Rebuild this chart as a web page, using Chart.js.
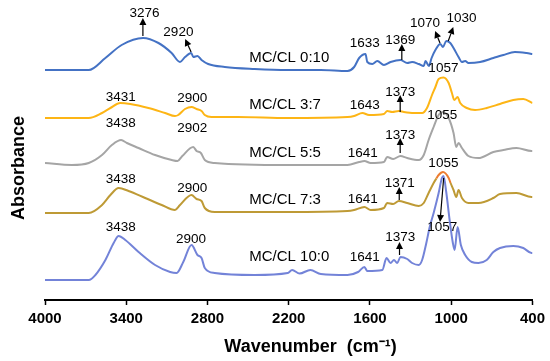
<!DOCTYPE html>
<html>
<head>
<meta charset="utf-8">
<script src="https://cdn.jsdelivr.net/npm/chart.js@4/dist/chart.umd.min.js"></script>
<style>
html,body{margin:0;padding:0;background:#fff;}
#wrap{width:550px;height:361px;position:relative;}
</style>
</head>
<body>
<div id="wrap"><canvas id="c" width="550" height="361"></canvas></div>
<script>
// ---- data (wavenumber in cm-1, absorbance in arbitrary offset units) ----
const xTicks = [4000, 3400, 2800, 2200, 1600, 1000, 400];

const seriesNames = ['MC/CL 0:10', 'MC/CL 3:7', 'MC/CL 5:5', 'MC/CL 7:3', 'MC/CL 10:0'];

const wn_0_10 = [4000,3677,3554,3434,3276,3162,3065,3003,2966,2920,2905,2874,2844,2795,2672,2452,2207,1963,1766,1717,1680,1633,1620,1583,1546,1497,1448,1375,1325,1289,1240,1203,1190,1165,1145,1117,1081,1061,1037,1007,983,946,921,897,873,787,689,615,530,444,400];
const abs_0_10 = [2.32,2.32,2.44,2.57,2.64,2.59,2.49,2.40,2.45,2.49,2.45,2.46,2.42,2.38,2.35,2.33,2.32,2.32,2.31,2.35,2.44,2.48,2.40,2.38,2.41,2.37,2.40,2.42,2.39,2.40,2.38,2.36,2.41,2.36,2.44,2.52,2.58,2.55,2.61,2.59,2.54,2.45,2.40,2.41,2.39,2.40,2.44,2.47,2.50,2.49,2.48];

const wn_3_7 = [4000,3677,3579,3517,3444,3370,3236,3113,3040,3016,2966,2918,2881,2844,2820,2771,2575,2207,1766,1717,1656,1607,1497,1473,1436,1387,1350,1276,1215,1179,1142,1117,1093,1057,1019,995,978,953,934,885,824,738,640,542,468,400];
const abs_3_7 = [1.84,1.84,1.89,1.94,1.99,1.98,1.94,1.89,1.86,1.87,1.93,1.95,1.93,1.91,1.87,1.85,1.85,1.84,1.85,1.86,1.89,1.87,1.88,1.91,1.90,1.91,1.90,1.89,1.89,1.94,2.07,2.15,2.23,2.245,2.19,2.09,2.02,2.05,1.99,1.94,1.92,1.94,1.98,2.02,2.03,1.99];

const wn_5_5 = [4000,3802,3677,3579,3506,3438,3395,3309,3187,3064,3021,2986,2905,2881,2849,2820,2747,2207,1766,1680,1641,1595,1497,1473,1429,1375,1325,1240,1203,1167,1130,1093,1061,1019,983,963,946,921,873,799,689,615,518,407,400];
const abs_5_5 = [1.39,1.37,1.39,1.47,1.57,1.62,1.59,1.54,1.47,1.42,1.41,1.46,1.55,1.51,1.49,1.42,1.39,1.37,1.37,1.40,1.41,1.39,1.40,1.45,1.43,1.46,1.44,1.42,1.47,1.62,1.75,1.87,1.90,1.84,1.69,1.55,1.59,1.54,1.46,1.44,1.50,1.52,1.54,1.51,1.51];

const wn_7_3 = [4000,3677,3579,3517,3456,3383,3260,3138,3040,3003,2918,2881,2844,2820,2747,2207,1766,1717,1641,1595,1497,1473,1429,1387,1325,1240,1203,1167,1130,1110,1093,1061,1019,1005,983,963,946,921,873,799,689,640,518,407,400];
const abs_7_3 = [0.89,0.89,0.97,1.07,1.14,1.11,1.04,0.97,0.92,0.97,1.07,1.03,1.01,0.94,0.90,0.90,0.91,0.92,0.95,0.92,0.94,0.99,0.98,1.01,0.99,0.96,0.99,1.09,1.19,1.235,1.27,1.30,1.24,1.19,1.12,1.05,1.12,1.04,0.99,0.99,1.04,1.08,1.09,1.05,1.05];
// range of the 7:3 curve drawn in red near its 1055 maximum
const redPeakRange = [1005, 1110];

const wn_10_0 = [4000,3677,3628,3554,3493,3456,3407,3309,3187,3076,3028,2979,2918,2874,2844,2820,2747,2452,2207,2175,2120,2040,1963,1766,1688,1641,1620,1509,1478,1448,1423,1399,1375,1325,1289,1240,1215,1184,1159,1130,1093,1069,1057,1037,1012,988,975,953,929,897,848,799,738,689,640,542,468,407,400];
const abs_10_0 = [0.22,0.22,0.27,0.42,0.59,0.66,0.62,0.50,0.37,0.30,0.29,0.40,0.57,0.47,0.44,0.34,0.29,0.27,0.29,0.32,0.285,0.32,0.28,0.27,0.30,0.35,0.31,0.32,0.44,0.39,0.42,0.39,0.45,0.43,0.39,0.37,0.42,0.59,0.75,0.89,1.09,1.24,1.26,1.10,0.82,0.59,0.52,0.75,0.57,0.47,0.40,0.39,0.42,0.50,0.54,0.56,0.54,0.49,0.49];

// peak labels: text and anchor (wavenumber, absorbance)
const peakText = ['3276','2920','1633','1369','1070','1030',
                  '3431','2900','1643','1373','1057',
                  '3438','2902','1641','1373','1055',
                  '3438','2900','1641','1371','1055',
                  '3438','2900','1641','1373','1057'];
const peakWn   = [3265,3015,1639,1377,1193,924,
                  3441,2912,1639,1377,1058,
                  3441,2912,1654,1377,1066,
                  3441,2912,1654,1380,1058,
                  3441,2921,1639,1377,1066];
const peakAbs  = [2.89,2.70,2.59,2.62,2.79,2.84,
                  2.05,2.04,1.97,2.10,2.34,
                  1.79,1.74,1.49,1.67,1.87,
                  1.23,1.14,1.03,1.19,1.39,
                  0.75,0.63,0.45,0.65,0.75];
// series name anchors
const nameWn  = [2492,2492,2492,2492,2492];
const nameAbs = [2.44,1.97,1.49,1.025,0.45];
// arrows: tail -> tip
const arrowWn1  = [3277,2921,1365,1083,1022, 1377, 1377, 1384, 1382, 1056];
const arrowAbs1 = [2.66,2.50,2.42,2.59,2.61, 1.90, 1.49, 1.02, 0.47, 1.24];
const arrowWn2  = [3277,2965,1365,1119,985,  1377, 1377, 1384, 1382, 1083];
const arrowAbs2 = [2.84,2.63,2.58,2.71,2.75, 2.07, 1.64, 1.15, 0.60, 0.80];

const colors = ['#4472C4', '#FDB515', '#A5A5A5', '#BE9A35', '#7383D8'];
const redPeakColor = '#ED7D31';

const pts = (xs, ys) => xs.map((x, i) => ({x: x, y: ys[i]}));

const wnSets = [wn_0_10, wn_3_7, wn_5_5, wn_7_3, wn_10_0];
const absSets = [abs_0_10, abs_3_7, abs_5_5, abs_7_3, abs_10_0];

const datasets = seriesNames.map((name, i) => {
  const ds = {
    label: name,
    data: pts(wnSets[i], absSets[i]),
    borderColor: colors[i],
    borderWidth: 2,
    pointRadius: 0,
    fill: false,
    cubicInterpolationMode: 'monotone',
    order: 4 - i
  };
  if (i === 3) {
    ds.segment = {
      borderColor: ctx => {
        const a = ctx.p0.parsed.x, b = ctx.p1.parsed.x;
        return (Math.min(a, b) >= redPeakRange[0] && Math.max(a, b) <= redPeakRange[1]) ? redPeakColor : undefined;
      }
    };
  }
  return ds;
});

const FONT = "'Liberation Sans', Arial, Helvetica, sans-serif";

const annotate = {
  id: 'annotate',
  afterDatasetsDraw(chart) {
    const ctx = chart.ctx, xs = chart.scales.x, ys = chart.scales.y;
    ctx.save();
    ctx.fillStyle = '#000';
    ctx.strokeStyle = '#000';
    ctx.textBaseline = 'middle';
    // peak labels
    ctx.font = '13.5px ' + FONT;
    ctx.textAlign = 'center';
    peakText.forEach((t, i) => {
      ctx.fillText(t, xs.getPixelForValue(peakWn[i]), ys.getPixelForValue(peakAbs[i]));
    });
    // series names
    ctx.font = '15px ' + FONT;
    ctx.textAlign = 'left';
    seriesNames.forEach((t, i) => {
      ctx.fillText(t, xs.getPixelForValue(nameWn[i]), ys.getPixelForValue(nameAbs[i]));
    });
    // arrows
    ctx.lineWidth = 1.2;
    arrowWn1.forEach((w, i) => {
      const x1 = xs.getPixelForValue(w), y1 = ys.getPixelForValue(arrowAbs1[i]);
      const x2 = xs.getPixelForValue(arrowWn2[i]), y2 = ys.getPixelForValue(arrowAbs2[i]);
      const ang = Math.atan2(y2 - y1, x2 - x1);
      const L = 7, H = 3.5;
      const bx = x2 - L * Math.cos(ang), by = y2 - L * Math.sin(ang);
      ctx.beginPath();
      ctx.moveTo(x1, y1);
      ctx.lineTo(bx, by);
      ctx.stroke();
      ctx.beginPath();
      ctx.moveTo(x2, y2);
      ctx.lineTo(bx + H * Math.sin(ang), by - H * Math.cos(ang));
      ctx.lineTo(bx - H * Math.sin(ang), by + H * Math.cos(ang));
      ctx.closePath();
      ctx.fill();
    });
    // axis titles
    ctx.font = 'bold 18px ' + FONT;
    ctx.textAlign = 'center';
    ctx.fillText('Wavenumber  (cm\u207B\u00B9)', 310.5, 347);
    ctx.translate(19.5, 168);
    ctx.rotate(-Math.PI / 2);
    ctx.fillText('Absorbance', 0, 0);
    ctx.restore();
  }
};

new Chart(document.getElementById('c'), {
  type: 'line',
  data: { datasets: datasets },
  options: {
    responsive: false,
    animation: false,
    devicePixelRatio: 1,
    layout: { padding: { left: 45, right: 15.5, top: 0, bottom: 0 } },
    plugins: { legend: { display: false }, tooltip: { enabled: false } },
    scales: {
      x: {
        type: 'linear',
        reverse: true,
        min: 400,
        max: 4000,
        afterBuildTicks: s => { s.ticks = xTicks.map(v => ({ value: v })); },
        afterFit: s => { s.height = 61; },
        ticks: {
          color: '#000',
          font: { family: FONT, size: 15, weight: 'bold' },
          padding: 5,
          maxRotation: 0,
          autoSkip: false,
          callback: v => String(v)
        },
        grid: { drawOnChartArea: false, drawTicks: true, tickLength: 5, tickColor: '#000', tickWidth: 1.5 },
        border: { display: true, color: '#000', width: 2 }
      },
      y: {
        display: false,
        min: 0.02,
        max: 3.02
      }
    }
  },
  plugins: [annotate]
});
</script>
</body>
</html>
